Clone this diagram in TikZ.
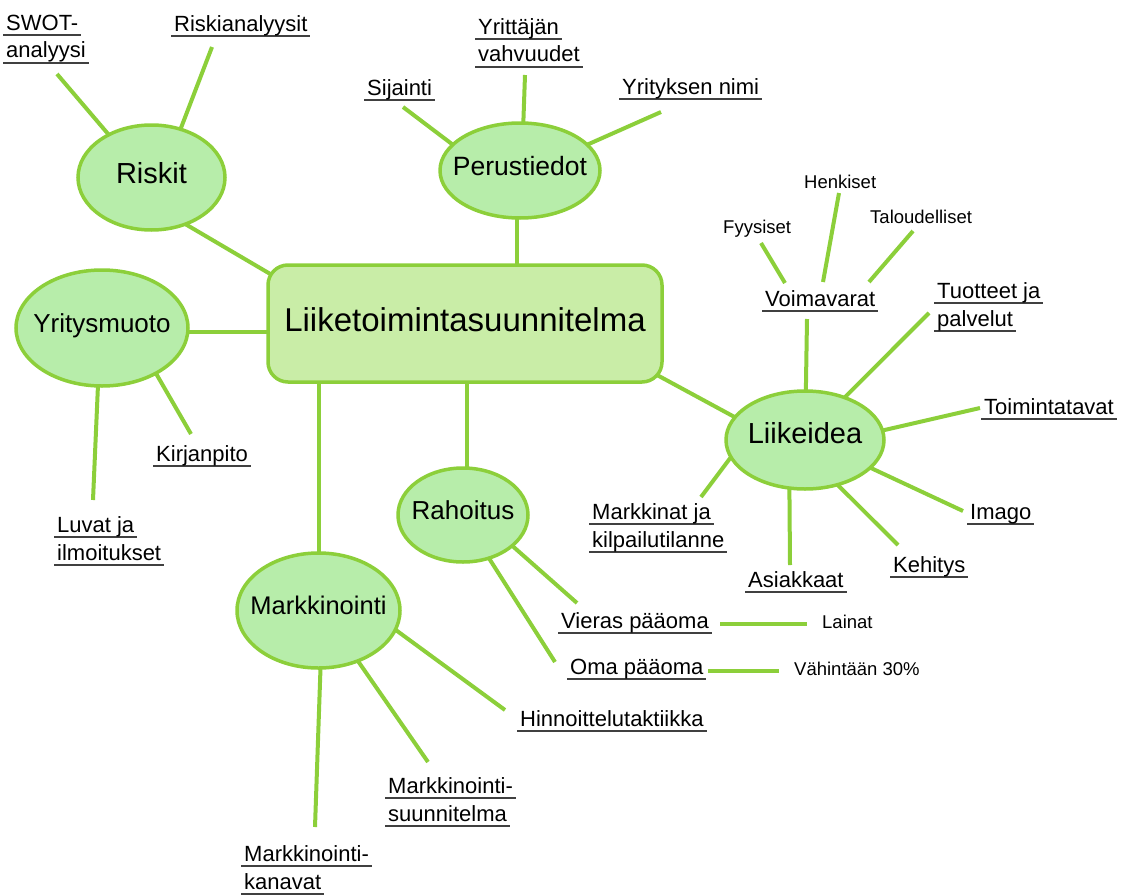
\documentclass[tikz,border=0pt]{standalone}
\usepackage{fontspec}
\setmainfont{Liberation Sans}
\usetikzlibrary{shapes.geometric}

\definecolor{linegreen}{RGB}{140,207,58}
\definecolor{ellfill}{RGB}{183,237,170}
\definecolor{boxfill}{RGB}{201,237,167}
\definecolor{ulgray}{RGB}{64,64,64}

% underlined label line, and a two-line label
\newcommand{\ulbl}[1]{\hbox{\setbox0=\hbox{\kern3pt #1\kern3pt}\rlap{\color{ulgray}\rule[-6pt]{\wd0}{2pt}}\box0}}
\newcommand{\ulpair}[2]{\vtop{\baselineskip=28pt\ulbl{#1}\ulbl{#2}}}

\begin{document}
\begin{tikzpicture}[x=1pt,y=-1pt,
    link/.style={draw=linegreen,line width=4pt},
    topic/.style={ellipse,draw=linegreen,line width=3.5pt,fill=ellfill,inner xsep=-20pt,inner ysep=0pt,outer sep=0pt,text depth=10pt},
    leaf/.style={inner sep=0pt,anchor=base west,font=\fontsize{22}{28}\selectfont},
    minor/.style={inner sep=0pt,anchor=base west,font=\fontsize{18.5}{22}\selectfont}]
  \useasboundingbox (0,0) rectangle (1129,894);

  \node[rectangle,rounded corners=20pt,draw=linegreen,line width=3.5pt,fill=boxfill,outer sep=0pt,
        minimum width=394pt,minimum height=117pt,text depth=8pt,font=\fontsize{33}{40}\selectfont]
        (plan) at (465,323.5) {Liiketoimintasuunnitelma};

  \node[topic,minimum width=147pt,minimum height=105pt,font=\fontsize{29}{34}\selectfont] (riskit) at (151.5,177.5) {Riskit};
  \node[topic,minimum width=160pt,minimum height=95pt,font=\fontsize{26.5}{32}\selectfont] (perus) at (520,170.5) {Perustiedot};
  \node[topic,minimum width=172pt,minimum height=116pt,font=\fontsize{26}{32}\selectfont] (yritys) at (102,328) {Yritysmuoto};
  \node[topic,minimum width=158pt,minimum height=98pt,text depth=14pt,font=\fontsize{29}{34}\selectfont] (liike) at (805,440) {Liikeidea};
  \node[topic,minimum width=130pt,minimum height=94pt,font=\fontsize{26}{32}\selectfont] (rahoitus) at (463,515) {Rahoitus};
  \node[topic,minimum width=163pt,minimum height=115pt,font=\fontsize{25.5}{32}\selectfont] (markk) at (318.5,610.5) {Markkinointi};

  % labels
  \node[leaf] (swot) at (3,30) {\ulpair{SWOT-}{analyysi}};
  \node[leaf] (riskana) at (171,31) {\ulbl{Riskianalyysit}};
  \node[leaf] (sijainti) at (364,95) {\ulbl{Sijainti}};
  \node[leaf] (yrittaja) at (475,34) {\ulpair{Yrittäjän}{vahvuudet}};
  \node[leaf] (yrnimi) at (619,94) {\ulbl{Yrityksen nimi}};
  \node[leaf] (voima) at (762,306) {\ulbl{Voimavarat}};
  \node[minor] (fyys) at (723,233) {Fyysiset};
  \node[minor] (henk) at (804,188) {Henkiset};
  \node[minor] (talous) at (870,223) {Taloudelliset};
  \node[leaf] (tuotteet) at (934,298) {\ulpair{Tuotteet ja}{palvelut}};
  \node[leaf] (toimin) at (981,414) {\ulbl{Toimintatavat}};
  \node[leaf] (imago) at (967,519) {\ulbl{Imago}};
  \node[leaf] (kehitys) at (890,572) {\ulbl{Kehitys}};
  \node[leaf] (asiak) at (745,587) {\ulbl{Asiakkaat}};
  \node[leaf] (markkinat) at (589,519) {\ulpair{Markkinat ja}{kilpailutilanne}};
  \node[leaf] (kirjan) at (153,461) {\ulbl{Kirjanpito}};
  \node[leaf] (luvat) at (54,532) {\ulpair{Luvat ja}{ilmoitukset}};
  \node[leaf] (vieras) at (558,628) {\ulbl{Vieras pääoma}};
  \node[minor] (lainat) at (822,628) {Lainat};
  \node[leaf] (oma) at (567,674) {\ulbl{Oma pääoma}};
  \node[minor] (vahint) at (794,675) {Vähintään 30\%};
  \node[leaf] (hinnoit) at (517,726) {\ulbl{Hinnoittelutaktiikka}};
  \node[leaf] (msuunn) at (385,793) {\ulpair{Markkinointi-}{suunnitelma}};
  \node[leaf] (mkanavat) at (241,861) {\ulpair{Markkinointi-}{kanavat}};

  % connectors
  \draw[link] (riskit.135) -- ([shift={(54,44)}]swot.base west);
  \draw[link] (riskit.59) -- ([shift={(41,16)}]riskana.base west);
  \draw[link] (riskit.-54) -- ([shift={(4,10)}]plan.north west);
  \draw[link] (perus.159) -- ([shift={(39,12)}]sijainti.base west);
  \draw[link] (perus.86) -- ([shift={(50,41)}]yrittaja.base west);
  \draw[link] (perus.21) -- ([shift={(42,18)}]yrnimi.base west);
  \draw[link] (perus.-94) -- (perus.-94 |- plan.north);
  \draw[link] (yritys.-3) -- (yritys.-3 -| plan.west);
  \draw[link] (yritys.-40) -- ([shift={(38,-27)}]kirjan.base west);
  \draw[link] (yritys.-94) -- ([shift={(39,-32)}]luvat.base west);
  \draw[link] (markk.north) -- (markk.north |- plan.south);
  \draw[link] (rahoitus.85) -- (rahoitus.85 |- plan.south);
  \draw[link] (liike.162) -- ([shift={(-5,-7)}]plan.south east);
  \draw[link] (liike.89) -- ([shift={(45,13)}]voima.base west);
  \draw[link] ([shift={(23,-23)}]voima.base west) -- ([shift={(38,10)}]fyys.base west);
  \draw[link] ([shift={(61,-24)}]voima.base west) -- ([shift={(35,5)}]henk.base west);
  \draw[link] ([shift={(107,-24)}]voima.base west) -- ([shift={(43,8)}]talous.base west);
  \draw[link] (liike.47) -- ([shift={(-5,15)}]tuotteet.base west);
  \draw[link] (liike.7) -- ([shift={(-1,-6)}]toimin.base west);
  \draw[link] (liike.-23) -- ([shift={(-4,-8)}]imago.base west);
  \draw[link] (liike.-54) -- ([shift={(8,-27)}]kehitys.base west);
  \draw[link] (liike.-108) -- ([shift={(45,-22)}]asiak.base west);
  \draw[link] (liike.-167) -- ([shift={(112,-22)}]markkinat.base west);
  \draw[link] (rahoitus.-32) -- ([shift={(19,-25)}]vieras.base west);
  \draw[link] (rahoitus.-59) -- ([shift={(-12,-12)}]oma.base west);
  \draw[link] ([shift={(162,-4)}]vieras.base west) -- ([shift={(-15,-4)}]lainat.base west);
  \draw[link] ([shift={(141,-3)}]oma.base west) -- ([shift={(-15,-4)}]vahint.base west);
  \draw[link] (markk.-14) -- ([shift={(-12,-16)}]hinnoit.base west);
  \draw[link] (markk.-52) -- ([shift={(43,-31)}]msuunn.base west);
  \draw[link] (markk.-88) -- ([shift={(74,-34)}]mkanavat.base west);
\end{tikzpicture}
\end{document}
